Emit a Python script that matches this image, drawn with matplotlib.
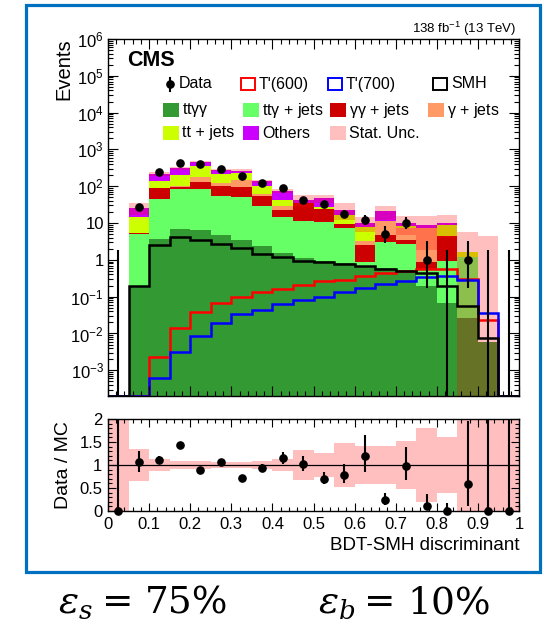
import numpy as np
import matplotlib
matplotlib.use("Agg")
import matplotlib.pyplot as plt
from matplotlib.patches import Rectangle
from matplotlib.lines import Line2D
from matplotlib.ticker import FixedLocator, LogLocator, MultipleLocator, NullFormatter, FuncFormatter

plt.rcParams['font.family'] = ['Liberation Sans', 'DejaVu Sans']
plt.rcParams['mathtext.fontset'] = 'custom'
plt.rcParams['mathtext.rm'] = 'Liberation Sans'
plt.rcParams['mathtext.it'] = 'Liberation Sans:italic'
plt.rcParams['mathtext.bf'] = 'Liberation Sans:bold'
plt.rcParams['mathtext.default'] = 'regular'

# ---------------- data: 20 bins of the BDT-SMH discriminant ----------------
bin_edges = np.linspace(0.0, 1.0, 21)

ttgg     = [0, 0.19, 3.7, 6.7, 6.5, 4.8, 3.5, 2.4, 1.5, 1.15, 0.95, 0.8, 0.66, 0.6, 0.48, 0.19, 0.067, 0.026, 0.006, 0]
ttg_jets = [0, 4.8, 42, 78, 80, 50, 46, 27, 13.5, 9.9, 9.4, 6.5, 0.2, 2.5, 2.2, 0.37, 0.87, 1.2, 0, 0]
gg_jets  = [0, 0.3, 42, 13, 42, 47, 44, 26, 7, 24, 13.7, 2.2, 1.7, 1.5, 0.8, 0.34, 3.6, 0, 0, 0]
g_jets   = [0, 0, 2, 4, 48, 19, 55, 7, 7, 0, 0, 0, 0.6, 6.9, 3.8, 6.4, 0, 0, 0, 0]
tt_jets  = [0, 9.7, 50, 102, 168, 97, 86, 36, 14, 0.5, 4, 7.2, 4.6, 0, 1.1, 0, 4.4, 0.45, 0, 0]
others   = [0, 10.5, 81, 104, 107, 54, 32, 37, 33, 6.5, 19, 6.3, 2.3, 9.5, 1.8, 1.6, 1.2, 0, 0, 0]
stat_unc = [0, 8.9, 27, 28, 36, 19, 19, 12, 10, 14, 12, 11, 4.2, 8.8, 5.4, 7.1, 6.1, 4.2, 4.5, 0]

tprime600 = [0, 0, 0.0023, 0.014, 0.039, 0.069, 0.10, 0.13, 0.16, 0.21, 0.26, 0.29, 0.36, 0.43, 0.51, 0.55, 0.55, 0.30, 0.023, 0]
tprime700 = [0, 0, 0.0006, 0.0032, 0.0085, 0.019, 0.033, 0.044, 0.063, 0.080, 0.10, 0.13, 0.17, 0.22, 0.27, 0.34, 0.37, 0.29, 0.036, 0]
smh       = [0, 0.19, 2.6, 4.2, 3.5, 2.7, 2.1, 1.4, 1.17, 0.94, 0.85, 0.76, 0.69, 0.58, 0.49, 0.45, 0.19, 0.056, 0.0074, 0]

data = [0, 27, 245, 440, 398, 291, 192, 126, 87, 43, 33, 18, 12, 5, 10, 1, 0, 1, 0, 0]

process_labels = ['tt$\\gamma\\gamma$', 'tt$\\gamma$ + jets', '$\\gamma\\gamma$ + jets',
                  '$\\gamma$ + jets', 'tt + jets', 'Others']
process_colors = ['#339933', '#66ff66', '#cc0000', '#ff9966', '#ccff00', '#cc00ff']

x_ticks = [0, 0.1, 0.2, 0.3, 0.4, 0.5, 0.6, 0.7, 0.8, 0.9, 1.0]
x_ticklabels = ['0', '0.1', '0.2', '0.3', '0.4', '0.5', '0.6', '0.7', '0.8', '0.9', '1']
ratio_ticks = [0, 0.5, 1, 1.5, 2]
ratio_ticklabels = ['0', '0.5', '1', '1.5', '2']

eff_signal = '75%'
eff_background = '10%'

# ---------------- helpers ----------------
W, H = 544, 633
YMIN, YMAX = 2e-4, 1e6
FLOOR = 1e-7


def fx(px):
    return px / W


def fy(py):
    return 1 - py / H


def poisson_interval(n):
    n = np.asarray(n, float)
    nn = np.maximum(n, 1)
    lo = np.where(n > 0, nn * (1 - 1 / (9 * nn) - 1 / (3 * np.sqrt(nn))) ** 3, 0.0)
    m = n + 1
    hi = m * (1 - 1 / (9 * m) + 1 / (3 * np.sqrt(m))) ** 3
    return n - lo, hi - n


centers = 0.5 * (bin_edges[1:] + bin_edges[:-1])
data_arr = np.asarray(data, float)
err_lo, err_hi = poisson_interval(data_arr)
components = [np.asarray(v, float) for v in (ttgg, ttg_jets, gg_jets, g_jets, tt_jets, others)]
mc_total = np.sum(components, axis=0)
unc = np.asarray(stat_unc, float)

fig = plt.figure(figsize=(W / 100, H / 100), dpi=100)
ax = fig.add_axes([fx(108), fy(396), fx(519) - fx(108), fy(39) - fy(396)])
rax = fig.add_axes([fx(108), fy(511), fx(519) - fx(108), fy(419) - fy(511)])

# ---------------- main panel: stacked backgrounds ----------------
lower = np.full(20, FLOOR)
cum = np.zeros(20)
for vals, color in zip(components, process_colors):
    cum = cum + vals
    upper = np.maximum(cum, FLOOR)
    ax.stairs(upper, bin_edges, baseline=lower, fill=True, color=color, lw=0)
    lower = upper

# statistical uncertainty band
ax.stairs(np.maximum(mc_total + unc, FLOOR), bin_edges,
          baseline=np.maximum(mc_total - unc, FLOOR), fill=True,
          color='red', alpha=0.25, lw=0)

# signal and SM Higgs templates
for vals, color in ((tprime600, '#ff0000'), (tprime700, '#0000ff'), (smh, 'black')):
    ax.stairs(np.maximum(np.asarray(vals, float), YMIN), bin_edges, baseline=YMIN,
              color=color, lw=1.8)

# observed data
ax.vlines(centers, np.maximum(data_arr - err_lo, FLOOR), data_arr + err_hi, color='black', lw=1.5)
pos = data_arr > 0
ax.plot(centers[pos], data_arr[pos], 'o', color='black', ms=5.2)

ax.set_xlim(0, 1)
ax.set_yscale('log')
ax.set_ylim(YMIN, YMAX)
ax.yaxis.set_major_locator(FixedLocator([10.0 ** k for k in range(-3, 7)]))
ax.yaxis.set_minor_locator(LogLocator(base=10, subs=np.arange(2, 10), numticks=100))


def log_label(v, pos):
    k = int(round(np.log10(v)))
    if k == 0:
        return '1'
    if k == 1:
        return '10'
    return '$10^{%d}$' % k


ax.yaxis.set_major_formatter(FuncFormatter(log_label))
ax.yaxis.set_minor_formatter(NullFormatter())
ax.xaxis.set_major_locator(MultipleLocator(0.1))
ax.xaxis.set_minor_locator(MultipleLocator(0.02))
ax.tick_params(axis='x', labelbottom=False)
ax.tick_params(which='both', direction='in', top=True, right=True, width=0.8)
ax.tick_params(which='major', length=7, labelsize=12, pad=3)
ax.tick_params(which='minor', length=3.5)
for s in ax.spines.values():
    s.set_linewidth(1.0)

# ---------------- ratio panel ----------------
safe_mc = np.where(mc_total > 0, mc_total, 1.0)
rel = np.where(mc_total > 0, unc / safe_mc, 10.0)
rax.stairs(1 + rel, bin_edges, baseline=1 - rel, fill=True, color='red', alpha=0.25, lw=0)
rax.axhline(1.0, color='black', lw=0.9)

ratio = np.where(mc_total > 0, data_arr / safe_mc, 0.0)
r_lo = np.where(mc_total > 0, err_lo / safe_mc, 0.0)
r_hi = np.where(mc_total > 0, err_hi / safe_mc, 10.0)
rax.vlines(centers, ratio - r_lo, ratio + r_hi, color='black', lw=1.5)
rax.plot(centers, ratio, 'o', color='black', ms=5.2, clip_on=False, zorder=5)

rax.set_xlim(0, 1)
rax.set_ylim(0, 2)
rax.set_xticks(x_ticks)
rax.set_xticklabels(x_ticklabels)
rax.set_yticks(ratio_ticks)
rax.set_yticklabels(ratio_ticklabels)
rax.xaxis.set_minor_locator(MultipleLocator(0.02))
rax.yaxis.set_minor_locator(MultipleLocator(0.1))
rax.tick_params(which='both', direction='in', top=True, right=True, width=0.8)
rax.tick_params(which='major', length=6, labelsize=12, pad=4)
rax.tick_params(which='minor', length=3)
for s in rax.spines.values():
    s.set_linewidth(1.0)

# ---------------- labels and annotations ----------------
fig.text(fx(64), fy(38), 'Events', rotation=90, ha='center', va='top', fontsize=14.5)
fig.text(fx(64), fy(465), 'Data / MC', rotation=90, ha='center', va='center', fontsize=14)
fig.text(fx(519), fy(545), 'BDT-SMH discriminant', ha='right', va='center', fontsize=13.5)
fig.text(fx(516), fy(29), '138 fb$^{-1}$ (13 TeV)', ha='right', va='center', fontsize=9.5)
fig.text(fx(127), fy(61), 'CMS', ha='left', va='center', fontsize=15.5, fontweight='bold')

# legend, three rows of entries
LFS = 11.5
BW, BH = 16, 14


def legend_box(x, y, label, face=None, edge=None, alpha=1.0):
    if face is not None:
        fig.add_artist(Rectangle((fx(x), fy(y + BH / 2)), BW / W, BH / H, transform=fig.transFigure,
                                 facecolor=face, edgecolor='none', alpha=alpha))
    if edge is not None:
        fig.add_artist(Rectangle((fx(x + 1), fy(y + BH / 2 - 1)), (BW - 2) / W, (BH - 2) / H,
                                 transform=fig.transFigure, facecolor='none', edgecolor=edge, lw=1.4))
    fig.text(fx(x + BW + 3), fy(y), label, ha='left', va='center', fontsize=LFS)


# data entry
fig.add_artist(Line2D([fx(170), fx(170)], [fy(78), fy(91)], transform=fig.transFigure, color='black', lw=1.5))
fig.add_artist(Line2D([fx(170)], [fy(84)], transform=fig.transFigure, marker='o', ms=5.2, color='black'))
fig.text(fx(179), fy(84), 'Data', ha='left', va='center', fontsize=LFS)
legend_box(240, 84, "T'(600)", edge='#ff0000')
legend_box(327, 84, "T'(700)", edge='#0000ff')
legend_box(432, 84, 'SMH', edge='black')

legend_box(163, 110, process_labels[0], face=process_colors[0])
legend_box(243, 110, process_labels[1], face=process_colors[1])
legend_box(330, 110, process_labels[2], face=process_colors[2])
legend_box(428, 110, process_labels[3], face=process_colors[3])

legend_box(163, 133, process_labels[4], face=process_colors[4])
legend_box(243, 133, process_labels[5], face=process_colors[5])
legend_box(330, 133, 'Stat. Unc.', face='red', alpha=0.25)

# framing box and efficiency summary
fig.add_artist(Rectangle((fx(26), fy(572)), (540 - 26) / W, (572 - 5) / H, transform=fig.transFigure,
                         fill=False, edgecolor='#0070c0', lw=2.3))

EFS = 27


def efficiency(x_eps, x_eq, x_val, sub, value):
    fig.text(fx(x_eps), fy(603), r'$\mathit{\varepsilon}_{\mathit{%s}}$' % sub, ha='left', va='center',
             fontsize=EFS, math_fontfamily='dejavuserif')
    fig.text(fx(x_eq), fy(603), '=', ha='center', va='center', fontsize=EFS, family='DejaVu Serif')
    fig.text(fx(x_val), fy(603), value, ha='left', va='center', fontsize=EFS, family='DejaVu Serif')


efficiency(58, 118, 145, 's', eff_signal)
efficiency(318, 380, 407, 'b', eff_background)

fig.savefig('out.png', dpi=100)
